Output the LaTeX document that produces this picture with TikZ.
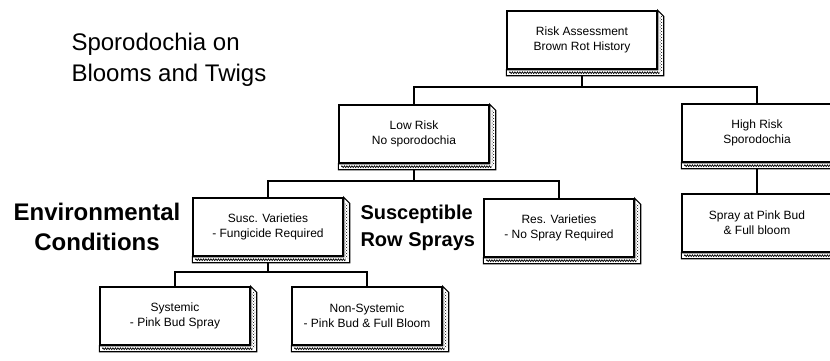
\documentclass[tikz,border=0pt]{standalone}
\usepackage{fontspec}
\setmainfont{Liberation Sans}
\usetikzlibrary{patterns,decorations.pathmorphing,calc}
\tikzset{
  riskbox/.style={draw, line width=1.4pt, fill=white, minimum width=150pt, minimum height=58pt, align=center, inner sep=2pt, font=\fontsize{12}{15}\selectfont},
  bevel/.style={draw, line width=1.1pt, fill=white},
  link/.style={line width=1.3pt},
  bigtext/.style={font=\fontsize{24}{31}\selectfont, align=left},
}
\begin{document}
\begin{tikzpicture}[x=1pt, y=1pt]
\useasboundingbox (0,0) rectangle (830,360);
\clip (0,0) rectangle (830,360);
% titles
\node[bigtext, anchor=north west] (title) at (68,330) {Sporodochia on\\Blooms and Twigs};
\node[font=\fontsize{24}{30}\selectfont\bfseries, align=center] (env) at (97,133) {Environmental\\Conditions};
\node[font=\fontsize{20}{27}\selectfont\bfseries, align=left, anchor=west] (rows) at (357,132) {Susceptible\\Row Sprays};
% boxes
\node[riskbox] (risk) at (582,320) {Risk Assessment\\Brown Rot History};
\node[riskbox] (low) at (414,226) {Low Risk\\No sporodochia};
\node[riskbox] (high) at (757,227) {High Risk\\Sporodochia};
\node[riskbox] (susc) at (268,133) {Susc. Varieties\\- Fungicide Required};
\node[riskbox] (res) at (559,132) {Res. Varieties\\- No Spray Required};
\node[riskbox] (spray) at (757,137) {Spray at Pink Bud\\\& Full bloom};
\node[riskbox] (syst) at (175,44) {Systemic\\- Pink Bud Spray};
\node[riskbox] (nonsyst) at (367,44) {Non-Systemic\\- Pink Bud \& Full Bloom};
% raised edges
\foreach \n in {risk,low,high,susc,res,spray,syst,nonsyst} {
  \filldraw[bevel] (\n.north east) -- ++(6,-6) -- ($(\n.south east)+(6,-6)$) -- ($(\n.south west)+(0,-6)$) -- (\n.south west) -- (\n.south east) -- cycle;
  \fill[pattern=crosshatch dots] ($(\n.north east)+(1.5,-6)$) rectangle ($(\n.south east)+(4.5,-2)$);
  \draw[line width=0.7pt, decorate, decoration={zigzag, segment length=2.5pt, amplitude=0.9pt}] ($(\n.south west)+(3,-3)$) -- ($(\n.south east)+(2,-3)$);
}
% connectors
\coordinate (j1) at (582,273);
\draw[link] ($(risk.south)+(0,-6)$) -- (j1);
\draw[link] (low.north) |- (j1) -| (high.north);
\coordinate (j2) at (414,179);
\draw[link] ($(low.south)+(0,-6)$) -- (j2);
\draw[link] (susc.north) |- (j2) -| (res.north);
\draw[link] ($(high.south)+(0,-6)$) -- (spray.north);
\coordinate (j3) at (268,88);
\draw[link] ($(susc.south)+(0,-6)$) -- (j3);
\draw[link] (syst.north) |- (j3) -| (nonsyst.north);
\end{tikzpicture}
\end{document}
